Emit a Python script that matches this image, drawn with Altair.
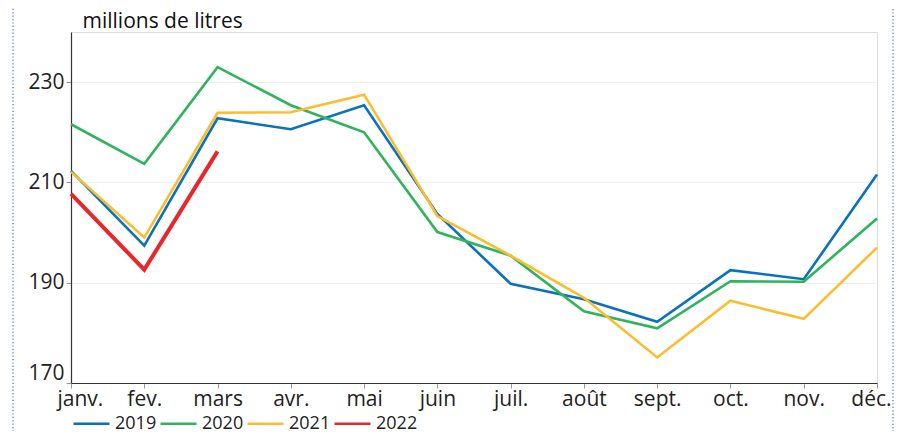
import altair as alt
import pandas as pd

months = ["janv.", "fev.", "mars", "avr.", "mai", "juin", "juil.", "août", "sept.", "oct.", "nov.", "déc."]
v2019 = [212.3, 197.4, 222.8, 220.6, 225.4, 203.7, 189.8, 186.7, 182.2, 192.5, 190.7, 211.6]
v2020 = [221.6, 213.7, 233.0, 225.4, 220.0, 200.1, 195.4, 184.3, 180.9, 190.3, 190.2, 202.8]
v2021 = [212.1, 199.0, 223.9, 224.0, 227.5, 203.3, 195.4, 187.0, 175.1, 186.4, 182.8, 197.0]
v2022 = [207.7, 192.6, 216.2]
years = ["2019", "2020", "2021", "2022"]
colors = ["#0a72bd", "#2fb35c", "#fbbd2e", "#e8272c"]
y_ticks = [170, 190, 210, 230]

rows = []
for yr, vals in zip(years, [v2019, v2020, v2021, v2022]):
    for m, v in zip(months, vals):
        rows.append({"mois": m, "annee": yr, "valeur": v})
df = pd.DataFrame(rows)

FONT = "Open Sans"

x_enc = alt.X("mois:N", sort=months, scale=alt.Scale(type="point", padding=0),
              axis=alt.Axis(title=None, labelAngle=0, labelFontSize=21, labelColor="#222",
                            labelFont=FONT, domainColor="#333", domainWidth=1.2,
                            labelFlush=True, labelFlushOffset=14,
                            tickColor="#999", tickSize=5, labelPadding=0, grid=False))
y_enc = alt.Y("valeur:Q", scale=alt.Scale(domain=[170, 240], nice=False, zero=False),
              axis=alt.Axis(values=y_ticks, title="millions de litres", titleAngle=0,
                            titleX=11, titleY=-5, titleAlign="left", titleBaseline="alphabetic",
                            titleFontSize=21, titleFontWeight="normal", titleFont=FONT,
                            titleColor="#111", labelFlush=True,
                            labelFontSize=21, labelFont=FONT, labelColor="#222",
                            domainColor="#333", domainWidth=1.2, tickColor="#999",
                            tickSize=5, labelPadding=2, gridColor="#efefef"))
c_enc = alt.Color("annee:N", scale=alt.Scale(domain=years, range=colors),
                  legend=alt.Legend(title=None, orient="none", direction="horizontal",
                                    legendX=1, legendY=381,
                                    symbolType="M-2,0H2", symbolSize=324,
                                    symbolStrokeWidth=2.5, symbolOffset=9,
                                    labelFontSize=18, labelFont=FONT, labelColor="#222",
                                    labelOffset=13, columnPadding=-2))

base = alt.Chart(df).encode(x=x_enc, y=y_enc, color=c_enc, order=alt.Order("annee:N"))
lines_main = base.transform_filter(alt.datum.annee != "2022").mark_line(strokeWidth=2.6)
line_2022 = base.transform_filter(alt.datum.annee == "2022").mark_line(strokeWidth=4)

border = alt.Chart(alt.Data(values=[{}])).mark_rect(
    fill="transparent", stroke="#4b6cc8", strokeWidth=1.2, strokeDash=[1.2, 2.2]
).encode(x=alt.value(-58), x2=alt.value(822), y=alt.value(-27), y2=alt.value(430))

chart = alt.layer(border, lines_main, line_2022).properties(
    width=806, height=351,
    autosize=alt.AutoSizeParams(type="none"),
    padding={"left": 63, "top": 24, "right": 22, "bottom": 48},
).configure_view(stroke=None).configure(font=FONT)

chart.save("out.html", embed_options={"renderer": "svg", "actions": False})
